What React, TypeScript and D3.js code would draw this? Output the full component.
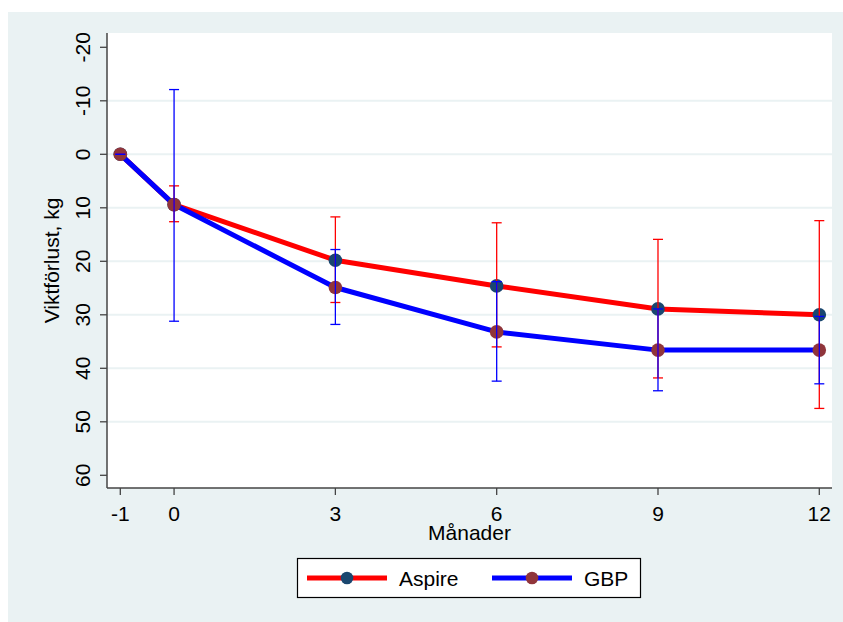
import React, { useEffect, useRef } from 'react';
import * as d3 from 'd3';

// months since surgery (-1 = baseline)
const months = [-1, 0, 3, 6, 9, 12];
const xTicks = [-1, 0, 3, 6, 9, 12];
const yTicks = [-20, -10, 0, 10, 20, 30, 40, 50, 60];

// Aspire group: mean weight loss and error bar ends (kg)
const aspireMean = [0, 9.4, 19.8, 24.6, 28.9, 30.0];
const aspireLo = [0, 5.9, 11.7, 12.8, 15.9, 12.4];
const aspireHi = [0, 12.6, 27.7, 36.0, 41.8, 47.5];

// GBP group
const gbpMean = [0, 9.4, 24.9, 33.2, 36.6, 36.6];
const gbpLo = [0, -12.1, 17.8, 23.8, 28.9, 30.3];
const gbpHi = [0, 31.2, 31.8, 42.4, 44.2, 42.9];

const seriesNames = ['Aspire', 'GBP'];

const W = 843;
const H = 622;
const FONT = '"Liberation Sans", Arial, sans-serif';

const App = () => {
  const svgRef = useRef<SVGSVGElement>(null);

  useEffect(() => {
    const svg = d3.select(svgRef.current);
    svg.selectAll('*').remove();

    const plot = { left: 107, right: 832, top: 33, bottom: 488 };

    const x = d3.scaleLinear().domain([-1, 12]).range([120.3, 819.3]);
    const y = d3.scaleLinear().domain([-20, 60]).range([47.3, 475.3]);

    // page + outer graph region
    svg.append('rect').attr('width', W).attr('height', H).attr('fill', '#ffffff');
    svg.append('rect')
      .attr('x', 8).attr('y', 12)
      .attr('width', W - 8).attr('height', H - 12)
      .attr('fill', '#eaf2f3');

    // plot region
    svg.append('rect')
      .attr('x', plot.left).attr('y', plot.top)
      .attr('width', plot.right - plot.left).attr('height', plot.bottom - plot.top)
      .attr('fill', '#ffffff');

    // gridlines (not at the extremes)
    svg.append('g')
      .selectAll('line')
      .data(yTicks.slice(1, -1))
      .enter()
      .append('line')
      .attr('x1', plot.left).attr('x2', plot.right)
      .attr('y1', d => y(d)).attr('y2', d => y(d))
      .attr('stroke', '#eaf2f3')
      .attr('stroke-width', 2);

    const series = [
      { name: seriesNames[0], mean: aspireMean, lo: aspireLo, hi: aspireHi, line: '#ff0000', marker: '#1a476f' },
      { name: seriesNames[1], mean: gbpMean, lo: gbpLo, hi: gbpHi, line: '#0000ff', marker: '#90353b' },
    ];

    const line = d3.line<number>()
      .x((_, i) => x(months[i]))
      .y(d => y(d));

    // connecting lines
    series.forEach(s => {
      svg.append('path')
        .datum(s.mean)
        .attr('d', line)
        .attr('fill', 'none')
        .attr('stroke', s.line)
        .attr('stroke-width', 5)
        .attr('stroke-linejoin', 'round');
    });

    // markers
    series.forEach(s => {
      svg.append('g')
        .selectAll('circle')
        .data(s.mean)
        .enter()
        .append('circle')
        .attr('cx', (_, i) => x(months[i]))
        .attr('cy', d => y(d))
        .attr('r', 6.8)
        .attr('fill', s.marker);
    });

    // error bars
    const cap = 5;
    series.forEach(s => {
      const g = svg.append('g')
        .attr('stroke', s.line)
        .attr('stroke-width', 1.3)
        .attr('fill', 'none');
      months.forEach((m, i) => {
        const cx = x(m);
        g.append('line')
          .attr('x1', cx).attr('x2', cx)
          .attr('y1', y(s.lo[i])).attr('y2', y(s.hi[i]));
        [s.lo[i], s.hi[i]].forEach(v => {
          g.append('line')
            .attr('x1', cx - cap).attr('x2', cx + cap)
            .attr('y1', y(v)).attr('y2', y(v));
        });
      });
    });

    // axes
    const axisColor = '#444444';
    svg.append('line')
      .attr('x1', plot.left).attr('x2', plot.left)
      .attr('y1', plot.top).attr('y2', plot.bottom)
      .attr('stroke', axisColor).attr('stroke-width', 1.5);
    svg.append('line')
      .attr('x1', plot.left).attr('x2', plot.right)
      .attr('y1', plot.bottom).attr('y2', plot.bottom)
      .attr('stroke', axisColor).attr('stroke-width', 1.5);

    // y ticks + rotated labels
    const yAxis = svg.append('g');
    yTicks.forEach(t => {
      yAxis.append('line')
        .attr('x1', plot.left - 7).attr('x2', plot.left)
        .attr('y1', y(t)).attr('y2', y(t))
        .attr('stroke', axisColor).attr('stroke-width', 1.3);
      yAxis.append('text')
        .attr('transform', `translate(90, ${y(t)}) rotate(-90)`)
        .attr('text-anchor', 'middle')
        .style('font-family', FONT)
        .style('font-size', '21px')
        .style('fill', '#000')
        .text(String(t));
    });

    // x ticks + labels
    const xAxis = svg.append('g');
    xTicks.forEach(t => {
      xAxis.append('line')
        .attr('x1', x(t)).attr('x2', x(t))
        .attr('y1', plot.bottom).attr('y2', plot.bottom + 7)
        .attr('stroke', axisColor).attr('stroke-width', 1.3);
      xAxis.append('text')
        .attr('x', x(t)).attr('y', 521)
        .attr('text-anchor', 'middle')
        .style('font-family', FONT)
        .style('font-size', '21px')
        .style('fill', '#000')
        .text(String(t));
    });

    // axis titles
    svg.append('text')
      .attr('x', (plot.left + plot.right) / 2).attr('y', 540)
      .attr('text-anchor', 'middle')
      .style('font-family', FONT)
      .style('font-size', '21px')
      .style('fill', '#000')
      .text('Månader');

    svg.append('text')
      .attr('transform', `translate(58.5, ${(plot.top + plot.bottom) / 2}) rotate(-90)`)
      .attr('text-anchor', 'middle')
      .style('font-family', FONT)
      .style('font-size', '21px')
      .style('fill', '#000')
      .text('Viktförlust, kg');

    // legend
    const legend = svg.append('g');
    legend.append('rect')
      .attr('x', 297.5).attr('y', 558.5)
      .attr('width', 343).attr('height', 39)
      .attr('fill', '#ffffff')
      .attr('stroke', '#000000')
      .attr('stroke-width', 1.2);

    const keyX = [307, 492];
    series.forEach((s, i) => {
      const lx = keyX[i];
      const ly = 578;
      legend.append('line')
        .attr('x1', lx).attr('x2', lx + 80)
        .attr('y1', ly).attr('y2', ly)
        .attr('stroke', s.line)
        .attr('stroke-width', 5);
      legend.append('circle')
        .attr('cx', lx + 40).attr('cy', ly)
        .attr('r', 6.3)
        .attr('fill', s.marker);
      legend.append('text')
        .attr('x', lx + 92).attr('y', 585.5)
        .style('font-family', FONT)
        .style('font-size', '21px')
        .style('fill', '#000')
        .text(s.name);
    });
  }, []);

  return (
    <svg
      ref={svgRef}
      width={W}
      height={H}
      style={{ position: 'absolute', left: 0, top: 0, display: 'block' }}
    />
  );
};

export default App;
